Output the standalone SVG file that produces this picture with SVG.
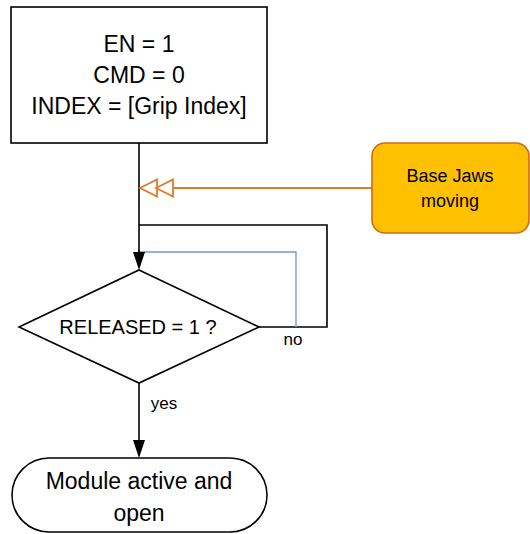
<svg xmlns="http://www.w3.org/2000/svg" width="530" height="534" viewBox="0 0 530 534">
<style>
.t{font-family:"Liberation Sans",Arial,sans-serif;fill:#000;text-anchor:middle}
.big{font-size:23px}
.mid{font-size:20px}
.sm{font-size:17px}
.ln{fill:none;stroke:#000;stroke-width:1.6}
</style>
<defs>
<marker id="ah" markerWidth="12" markerHeight="18" refX="6" refY="18" orient="auto-start-reverse" markerUnits="userSpaceOnUse" viewBox="0 0 12 18">
<path d="M0,0 L12,0 L6,18 Z" fill="#000"/>
</marker>
</defs>
<rect width="530" height="534" fill="#fff"/>
<g id="connectors">
<line class="ln" x1="139" y1="143" x2="139" y2="252"/>
<path class="ln" d="M139,225 H327 V327 H258"/>
<path d="M139,252 H296 V327" fill="none" stroke="#7099D6" stroke-width="1.3"/>
<line class="ln" x1="139" y1="250" x2="139" y2="252"/>
<path d="M133,252 L145,252 L139,270 Z" fill="#000"/>
<line class="ln" x1="139" y1="383" x2="139" y2="440"/>
<path d="M133,440 L145,440 L139,458 Z" fill="#000"/>
<line x1="173" y1="188" x2="372" y2="188" stroke="#E07A27" stroke-width="2"/>
<path d="M140,188 L157,179.5 L157,196.5 Z M156,188 L173,179.5 L173,196.5 Z" fill="#fff" stroke="#E07A27" stroke-width="1.8" stroke-linejoin="miter"/>
<text class="t sm" x="293" y="345">no</text>
<text class="t sm" x="164" y="409">yes</text>
</g>
<g id="node-init">
<rect x="11" y="7" width="256" height="136" fill="#fff" stroke="#000" stroke-width="1.6"/>
<text class="t big" x="139" y="52">EN = 1</text>
<text class="t big" x="139" y="83">CMD = 0</text>
<text class="t big" x="139" y="114">INDEX = [Grip Index]</text>
</g>
<g id="node-basejaws">
<rect x="372" y="143" width="157" height="90" rx="13" ry="13" fill="#FFC000" stroke="#D0691F" stroke-width="1.6"/>
<text class="t" style="font-size:18px" x="450" y="182">Base Jaws</text>
<text class="t" style="font-size:18px" x="450" y="207">moving</text>
</g>
<g id="node-decision">
<path d="M139,270 L259,327 L139,383 L19,327 Z" fill="#fff" stroke="#000" stroke-width="1.6"/>
<text class="t mid" x="138" y="334">RELEASED = 1 ?</text>
</g>
<g id="node-end">
<rect x="12" y="458" width="255" height="74" rx="37" ry="37" fill="#fff" stroke="#000" stroke-width="1.6"/>
<text class="t big" x="139" y="489">Module active and</text>
<text class="t big" x="139" y="521">open</text>
</g>
</svg>
